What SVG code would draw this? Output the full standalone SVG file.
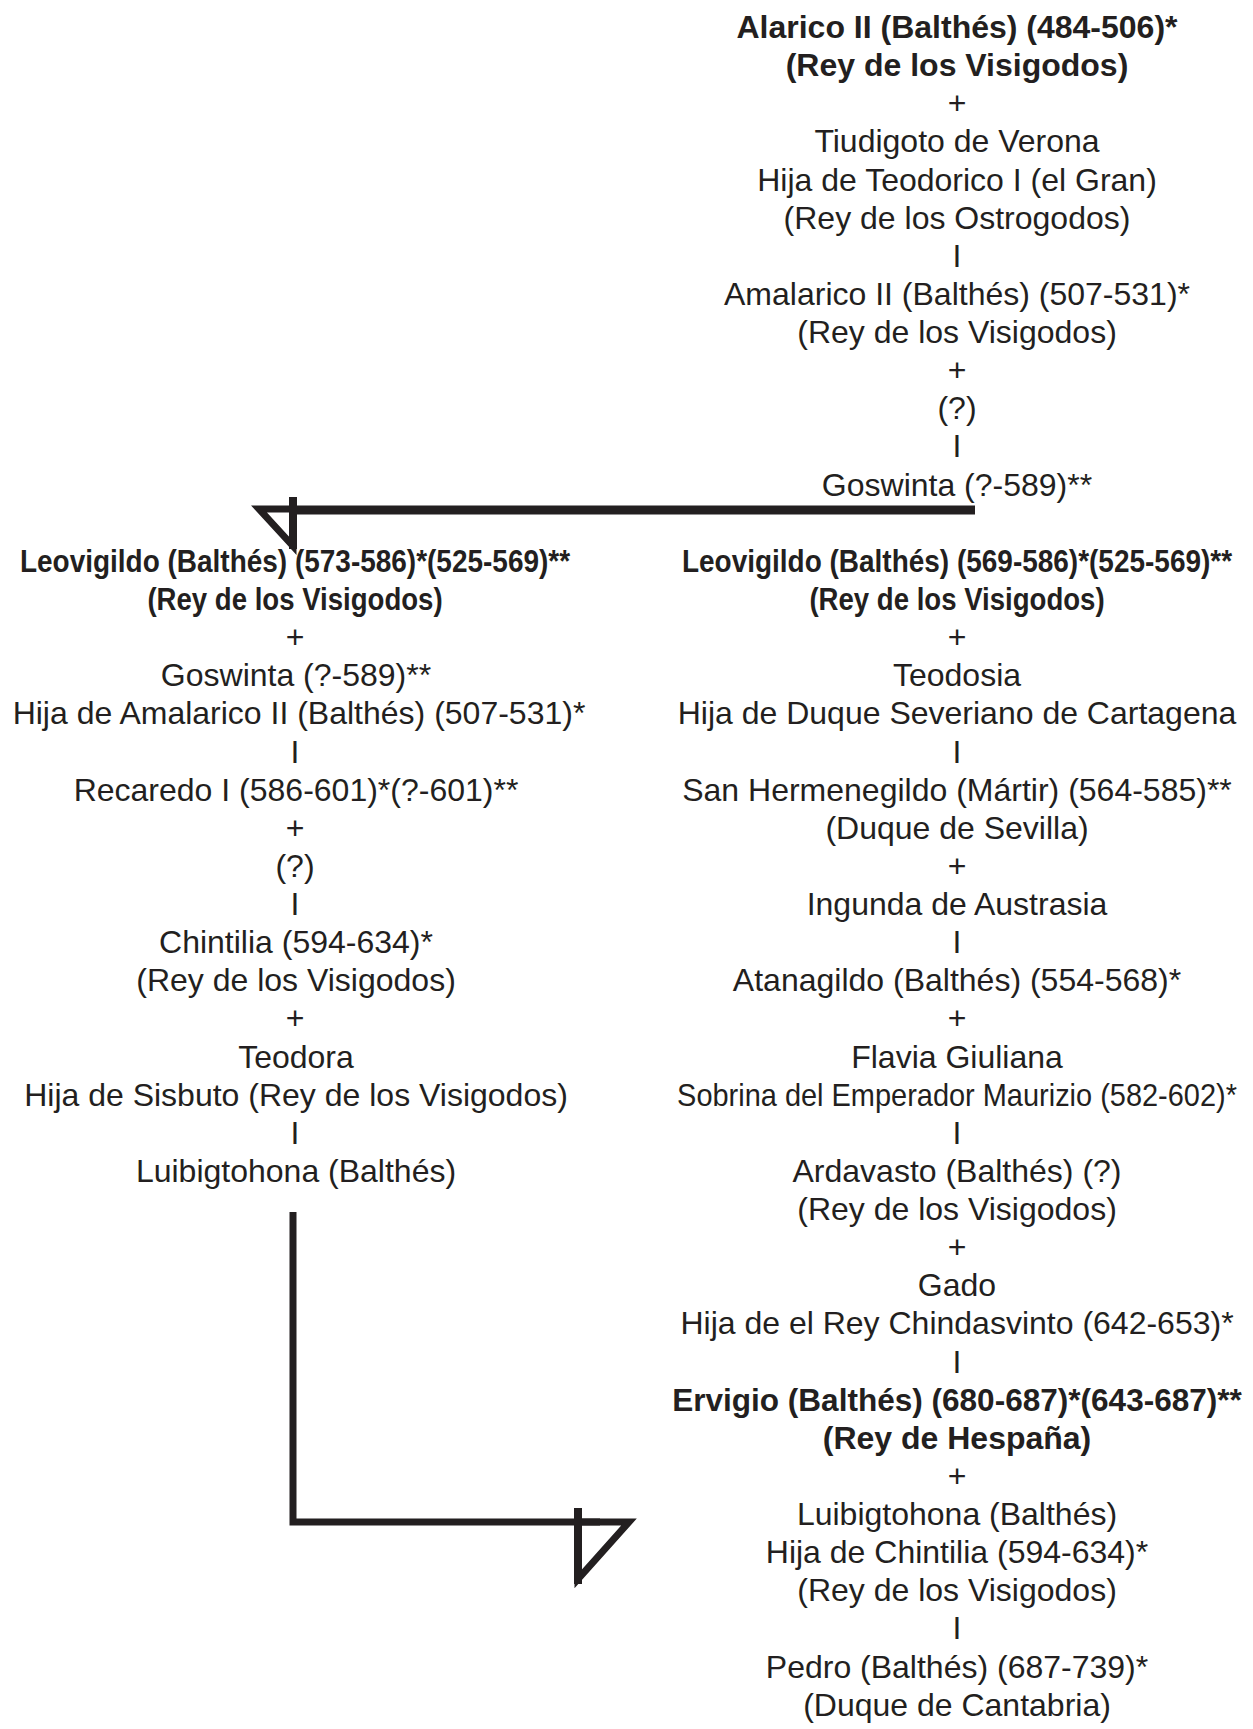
<svg xmlns="http://www.w3.org/2000/svg" width="1253" height="1729" viewBox="0 0 1253 1729">
<style>
text{font-family:"Liberation Sans",Arial,Helvetica,sans-serif;font-size:32px;fill:#231f20;text-anchor:middle}
.b{font-weight:bold}
.c{stroke:#231f20;fill:none;stroke-linejoin:miter;stroke-miterlimit:10}
</style>
<rect width="1253" height="1729" fill="#ffffff"/>
<g id="connectors">
<line class="c" x1="975" y1="510" x2="289" y2="510" stroke-width="9"/>
<polygon class="c" points="259,509 293,509 293,546" stroke-width="7"/>
<line class="c" x1="293" y1="497" x2="293" y2="549" stroke-width="8"/>
<path class="c" d="M293,1212 V1522 H600" stroke-width="7"/>
<polygon class="c" points="578,1522 629,1522 578,1579" stroke-width="7"/>
<line class="c" x1="578" y1="1508" x2="578" y2="1584" stroke-width="8"/>
</g>
<g id="node-alarico">
<text class="b" x="957" y="38">Alarico II (Balthés) (484-506)*</text>
<text class="b" x="957" y="76">(Rey de los Visigodos)</text>
<text x="957" y="114">+</text>
<text x="957" y="152">Tiudigoto de Verona</text>
<text x="957" y="191">Hija de Teodorico I (el Gran)</text>
<text x="957" y="229">(Rey de los Ostrogodos)</text>
<text x="957" y="267">I</text>
<text x="957" y="305">Amalarico II (Balthés) (507-531)*</text>
<text x="957" y="343">(Rey de los Visigodos)</text>
<text x="957" y="381">+</text>
<text x="957" y="419">(?)</text>
<text x="957" y="457">I</text>
<text x="957" y="496">Goswinta (?-589)**</text>
</g>
<g id="node-leovigildo-left">
<text class="b" transform="translate(295,572) scale(0.874,1)" x="0" y="0">Leovigildo (Balthés) (573-586)*(525-569)**</text>
<text class="b" transform="translate(295,610) scale(0.862,1)" x="0" y="0">(Rey de los Visigodos)</text>
<text x="295" y="648">+</text>
<text x="296" y="686">Goswinta (?-589)**</text>
<text x="299" y="724">Hija de Amalarico II (Balthés) (507-531)*</text>
<text x="295" y="763">I</text>
<text x="296" y="801">Recaredo I (586-601)*(?-601)**</text>
<text x="295" y="839">+</text>
<text x="295" y="877">(?)</text>
<text x="295" y="915">I</text>
<text x="296" y="953">Chintilia (594-634)*</text>
<text x="296" y="991">(Rey de los Visigodos)</text>
<text x="295" y="1029">+</text>
<text x="296" y="1068">Teodora</text>
<text x="296" y="1106">Hija de Sisbuto (Rey de los Visigodos)</text>
<text x="295" y="1144">I</text>
<text x="296" y="1182">Luibigtohona (Balthés)</text>
</g>
<g id="node-leovigildo-right">
<text class="b" transform="translate(957,572) scale(0.874,1)" x="0" y="0">Leovigildo (Balthés) (569-586)*(525-569)**</text>
<text class="b" transform="translate(957,610) scale(0.862,1)" x="0" y="0">(Rey de los Visigodos)</text>
<text x="957" y="648">+</text>
<text x="957" y="686">Teodosia</text>
<text x="957" y="724">Hija de Duque Severiano de Cartagena</text>
<text x="957" y="763">I</text>
<text x="957" y="801">San Hermenegildo (Mártir) (564-585)**</text>
<text x="957" y="839">(Duque de Sevilla)</text>
<text x="957" y="877">+</text>
<text x="957" y="915">Ingunda de Austrasia</text>
<text x="957" y="953">I</text>
<text x="957" y="991">Atanagildo (Balthés) (554-568)*</text>
<text x="957" y="1029">+</text>
<text x="957" y="1068">Flavia Giuliana</text>
<text transform="translate(957,1106) scale(0.905,1)" x="0" y="0">Sobrina del Emperador Maurizio (582-602)*</text>
<text x="957" y="1144">I</text>
<text x="957" y="1182">Ardavasto (Balthés) (?)</text>
<text x="957" y="1220">(Rey de los Visigodos)</text>
<text x="957" y="1258">+</text>
<text x="957" y="1296">Gado</text>
<text x="957" y="1334">Hija de el Rey Chindasvinto (642-653)*</text>
<text x="957" y="1373">I</text>
<text class="b" transform="translate(957,1411) scale(0.986,1)" x="0" y="0">Ervigio (Balthés) (680-687)*(643-687)**</text>
<text class="b" x="957" y="1449">(Rey de Hespaña)</text>
<text x="957" y="1487">+</text>
<text x="957" y="1525">Luibigtohona (Balthés)</text>
<text x="957" y="1563">Hija de Chintilia (594-634)*</text>
<text x="957" y="1601">(Rey de los Visigodos)</text>
<text x="957" y="1639">I</text>
<text x="957" y="1678">Pedro (Balthés) (687-739)*</text>
<text x="957" y="1716">(Duque de Cantabria)</text>
</g>
</svg>
